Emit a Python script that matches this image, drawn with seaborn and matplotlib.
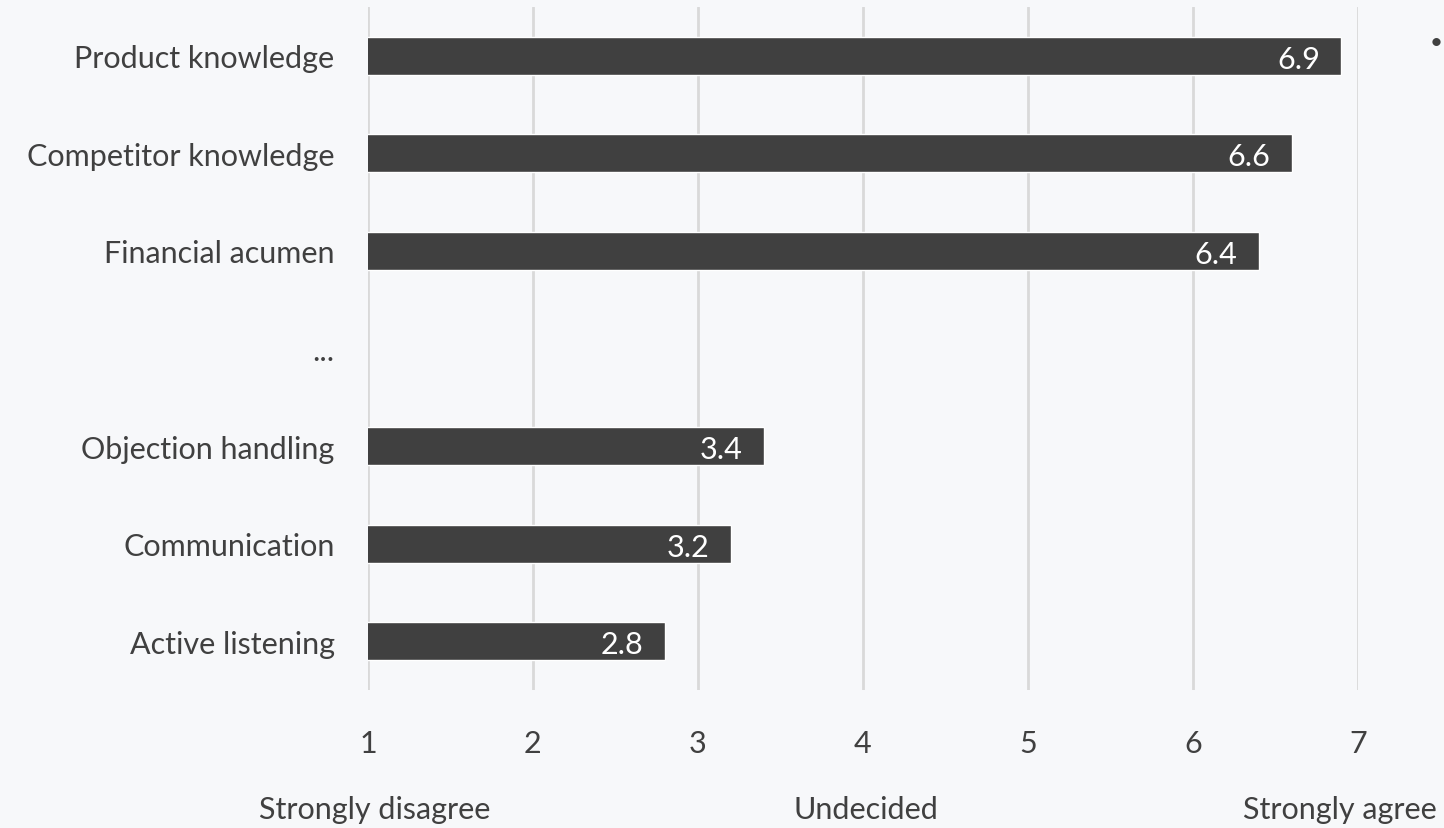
import numpy as np
import matplotlib
matplotlib.use("Agg")
import matplotlib.pyplot as plt
import matplotlib.transforms as mtransforms
import seaborn as sns

categories = ["Product knowledge", "Competitor knowledge", "Financial acumen", "...",
              "Objection handling", "Communication", "Active listening"]
values = [6.9, 6.6, 6.4, np.nan, 3.4, 3.2, 2.8]
xticks = [1, 2, 3, 4, 5, 6, 7]
scale_labels = ["Strongly disagree", "Undecided", "Strongly agree"]
scale_positions = [1.04, 4.02, 6.89]

BG = "#f7f8fa"
BAR = "#404040"
TXT = "#404040"
FS = 22

sns.set_theme(style="white")
plt.rcParams['font.family'] = ['Lato', 'DejaVu Sans']

fig = plt.figure(figsize=(14.44, 8.29), dpi=100, facecolor=BG)
ax = fig.add_axes([0.2548, 0.1665, 0.6856, 0.8238])
ax.set_facecolor(BG)

sns.barplot(x=values, y=categories, order=categories, orient="h", color=BAR,
            saturation=1, width=0.39, ax=ax, zorder=3)

ax.set_xlim(1, 7)
ax.set_ylim(6.5, -0.5)
ax.set_xticks(xticks)
ax.set_xticklabels([str(t) for t in xticks])
ax.grid(axis="x", color="#d9d9d9", linewidth=2, zorder=0)
ax.grid(axis="y", visible=False)
for s in ax.spines.values():
    s.set_visible(False)
ax.tick_params(axis="x", length=0, pad=28, labelsize=FS, labelcolor=TXT)
ax.tick_params(axis="y", length=0, pad=24, labelsize=FS, labelcolor=TXT)
ax.set_xlabel("")
ax.set_ylabel("")

for i, v in enumerate(values):
    if not np.isnan(v):
        ax.text(v - 0.13, i + 0.03, f"{v}", ha="right", va="center", color="white",
                fontsize=FS, zorder=4)

trans = mtransforms.blended_transform_factory(ax.transData, ax.transAxes)
for lab, xp in zip(scale_labels, scale_positions):
    ax.text(xp, -0.174, lab, ha="center", va="center", color=TXT, fontsize=FS,
            transform=trans, clip_on=False)

fig.text(0.9945, 0.948, "•", ha="center", va="center", color=TXT, fontsize=16)

fig.savefig("out.png", dpi=100, facecolor=BG)
